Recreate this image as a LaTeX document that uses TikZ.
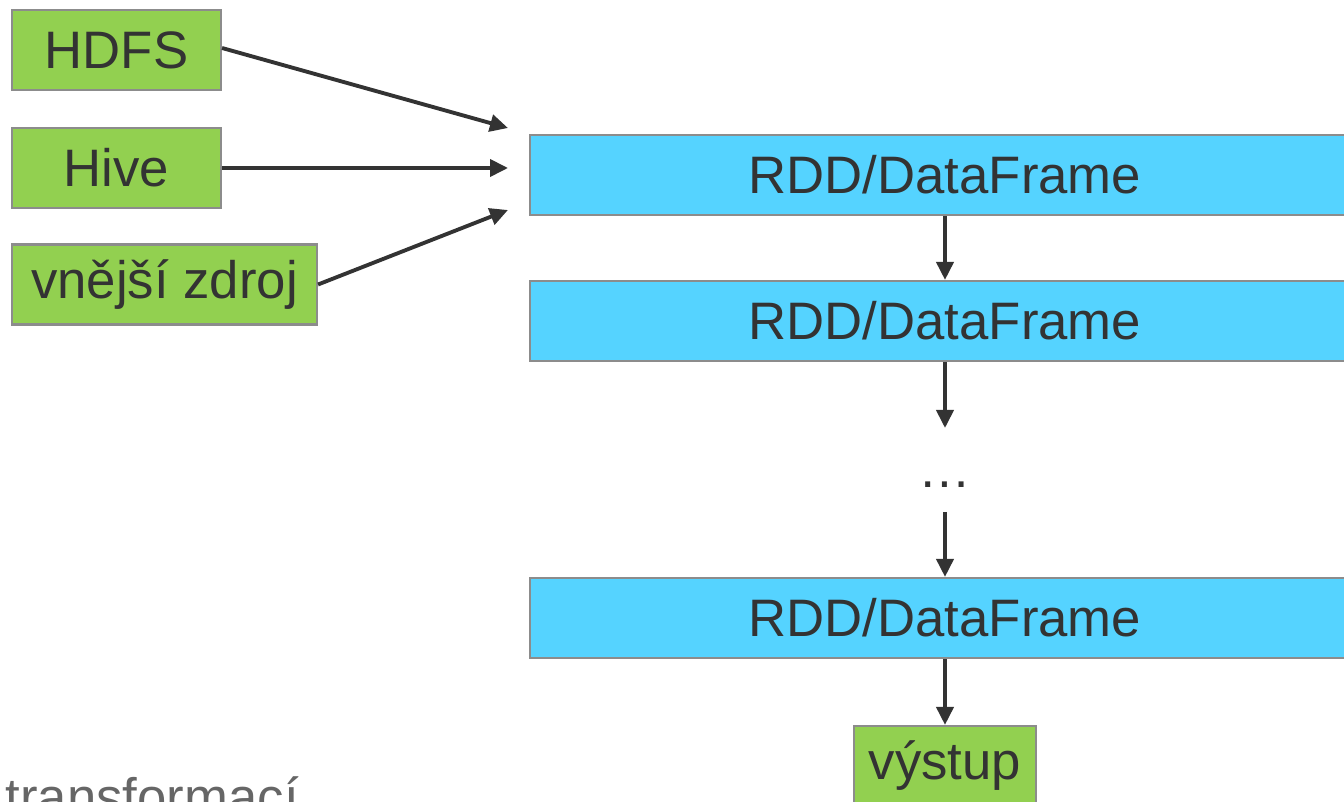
\documentclass[tikz,border=0pt]{standalone}
\usepackage{fontspec}
\setmainfont{Liberation Sans}
\usetikzlibrary{arrows.meta}
\definecolor{srcgreen}{HTML}{92D050}
\definecolor{rddblue}{HTML}{55D3FF}
\definecolor{boxline}{HTML}{8C8C8C}
\definecolor{inkgray}{HTML}{333333}
\begin{document}
\begin{tikzpicture}[
	src box/.style={draw=boxline, line width=0.6pt, fill=srcgreen, text=inkgray, minimum height=0.8cm, inner sep=0pt, font=\fontsize{15}{18}\selectfont},
	rdd box/.style={draw=boxline, line width=0.6pt, fill=rddblue, text=inkgray, minimum width=8.3cm, minimum height=0.8cm, inner sep=0pt, font=\fontsize{15}{18}\selectfont},
	flow/.style={draw=inkgray, line width=1.1pt, -{Triangle[length=1.8mm, width=1.7mm]}}]
		\useasboundingbox (0,0) rectangle (13.44,8.02);
		\node[src box, minimum width=2.09cm] (hdfs) at (1.165,7.52) {HDFS};
		\node[src box, minimum width=2.09cm] (hive) at (1.165,6.34) {Hive};
		\node[src box, minimum width=3.05cm] (ext) at (1.645,5.175) {vnější zdroj};
		\node[rdd box] (rdd1) at (9.45,6.27) {RDD/DataFrame};
		\node[rdd box] (rdd2) at (9.45,4.81) {RDD/DataFrame};
		\node[rdd box] (rdd3) at (9.45,1.84) {RDD/DataFrame};
		\node[text=inkgray, anchor=base, font=\fontsize{15}{18}\selectfont] (dots) at (9.45,3.14) {\dots};
		\node[src box, minimum width=1.82cm] (out) at (9.45,0.36) {výstup};
		\node[text=black!60, anchor=base west, inner sep=0pt, font=\fontsize{15}{18}\selectfont] (transf) at (0.05,-0.14) {transformací};
		\coordinate (in1) at (5.08,6.74);
		\coordinate (in2) at (5.08,6.34);
		\coordinate (in3) at (5.08,5.92);
		\coordinate (dots in) at (9.45,3.74);
		\coordinate (dots out) at (9.45,2.90);
		\draw[flow] (hdfs.east) ++(0,0.02) -- (in1);
		\draw[flow] (hive.east) -- (in2);
		\draw[flow] (ext.east) -- (in3);
		\draw[flow] (rdd1) -- (rdd2);
		\draw[flow] (rdd2) -- (dots in);
		\draw[flow] (dots out) -- (rdd3);
		\draw[flow] (rdd3) -- (out);
\end{tikzpicture}
\end{document}
